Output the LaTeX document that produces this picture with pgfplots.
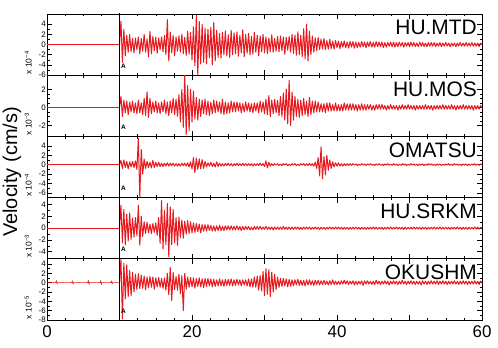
\documentclass[border=0pt]{standalone}
\usepackage{fontspec}
\setmainfont{Liberation Sans}
\usepackage{pgfplots}
\pgfplotsset{compat=1.18}
\definecolor{seisred}{RGB}{230,25,30}
\pgfplotsset{
  seis/.style={
    scale only axis, width=435bp, height=61.2bp,
    anchor=south west,
    xmin=0, xmax=60,
    xtick={0,10,...,60}, minor x tick num=3,
    xticklabels={},
    tick align=inside, tick pos=both,
    major tick length=5bp, minor tick length=2.5bp,
    minor y tick num=1,
    axis line style={line width=0.8bp},
    major tick style={black, line width=0.6bp},
    minor tick style={black, line width=0.5bp},
    yticklabel style={font=\fontsize{8}{8}\selectfont, inner sep=1bp},
    /pgf/number format/assume math mode=true,
    clip mode=individual,
  },
  seistr/.style={no marks, draw=seisred, line width=1.0bp, line join=round},
  pre/.style={no marks, draw=seisred, line width=0.7bp},
}
\newcommand{\stat}[1]{\node[anchor=north east, inner sep=0pt, font=\fontsize{21}{21}\selectfont] at (rel axis cs:0.9885,0.9) {#1};}
\newcommand{\mult}[1]{\node[rotate=90, anchor=west, inner sep=0pt, font=\fontsize{8.5}{8.5}\selectfont] at (rel axis cs:-0.043,0.01) {x 10\textsuperscript{−#1}};}
\newcommand{\arrv}{\addplot[no marks, black, line width=1.1bp] coordinates {(10,-100) (10,100)};
  \node[anchor=south west, inner sep=0.6pt, font=\fontsize{6.5}{6.5}\selectfont\bfseries] at ({axis cs:10.1,0}|-{rel axis cs:0,0.1}) {A};}
\begin{document}
\begin{tikzpicture}[x=1bp,y=1bp]
\useasboundingbox (0,0) rectangle (498,347);
% Panel 1 HU.MTD
\begin{axis}[seis, at={(47bp,271.8bp)}, ymin=-6, ymax=6, ytick={-6,-4,...,4}]
\addplot[pre] coordinates {(0,0) (10,0)};
\addplot[seistr] table[header=false,row sep=\\,x expr=10+0.2*\coordindex,y index=0] {
0\\4.6\\-3.5\\3.0\\-2.2\\1.8\\-1.5\\2.0\\-1.4\\1.2\\
-1.6\\1.3\\-1.0\\1.5\\-1.8\\1.2\\-1.3\\2.0\\-1.5\\1.1\\
-2.4\\2.6\\-1.8\\1.6\\-1.2\\1.4\\-1.7\\1.3\\-1.0\\1.5\\
-1.4\\1.8\\-2.0\\4.9\\-3.2\\2.4\\-1.6\\1.8\\-2.2\\1.5\\
-1.3\\1.7\\-1.5\\2.0\\-1.8\\1.4\\-2.1\\2.6\\-1.9\\2.4\\
-3.0\\3.5\\-4.2\\5.8\\-6.0\\4.5\\-3.8\\4.0\\-3.5\\3.2\\
-3.8\\3.0\\-2.6\\3.4\\-4.0\\4.3\\-3.2\\2.8\\-2.5\\2.2\\
-2.6\\2.4\\-2.0\\2.7\\-2.2\\1.9\\-2.5\\2.8\\-2.0\\2.3\\
-1.8\\2.5\\-2.3\\1.8\\-1.6\\2.9\\-2.4\\2.0\\-1.7\\2.2\\
-2.0\\1.6\\-1.9\\2.4\\-1.5\\1.8\\-2.2\\1.7\\-1.4\\2.0\\
-1.6\\1.5\\-1.8\\1.3\\-1.4\\1.9\\-1.5\\1.2\\-1.3\\1.6\\
-1.4\\1.7\\-1.2\\1.5\\-1.9\\1.4\\-1.1\\1.6\\-1.5\\2.0\\
-1.7\\1.9\\-2.1\\2.5\\-2.0\\1.8\\-2.4\\3.1\\-2.8\\4.0\\
-3.2\\2.6\\-2.0\\1.7\\-1.5\\1.3\\-1.2\\1.4\\-1.0\\1.1\\
-0.9\\1.2\\-1.0\\0.8\\-0.9\\1.0\\-0.8\\0.7\\-0.9\\0.8\\
-0.6\\0.7\\-0.8\\0.6\\-0.5\\0.7\\-0.6\\0.5\\-0.7\\0.6\\
-0.5\\0.6\\-0.7\\0.5\\-0.6\\0.4\\-0.5\\0.6\\-0.4\\0.5\\
-0.6\\0.5\\-0.4\\0.6\\-0.5\\0.4\\-0.5\\0.6\\-0.4\\0.5\\
-0.4\\0.5\\-0.6\\0.4\\-0.5\\0.4\\-0.3\\0.5\\-0.4\\0.5\\
-0.5\\0.4\\-0.4\\0.5\\-0.3\\0.4\\-0.5\\0.4\\-0.3\\0.4\\
-0.4\\0.5\\-0.3\\0.4\\-0.4\\0.3\\-0.4\\0.5\\-0.3\\0.4\\
-0.4\\0.3\\-0.4\\0.4\\-0.3\\0.4\\-0.3\\0.4\\-0.4\\0.3\\
-0.3\\0.4\\-0.4\\0.3\\-0.3\\0.4\\-0.3\\0.3\\-0.4\\0.3\\
-0.3\\0.3\\-0.4\\0.3\\-0.3\\0.4\\-0.3\\0.3\\-0.3\\0.4\\
-0.3\\0.3\\-0.3\\0.4\\-0.3\\0.3\\-0.3\\0.3\\-0.4\\0.3\\
0\\
};
\arrv
\stat{HU.MTD}
\mult{4}
\end{axis}
% Panel 2 HU.MOS
\begin{axis}[seis, at={(47bp,210.6bp)}, ymin=-3.2, ymax=3.55, ytick={-2,0,2}, minor y tick num=3]
\addplot[pre] coordinates {(0,0) (10,0)};
\addplot[seistr] table[header=false,row sep=\\,x expr=10+0.2*\coordindex,y index=0] {
0\\1.2\\-1.0\\0.8\\-0.6\\0.7\\-0.8\\0.6\\-0.5\\0.7\\
-0.6\\0.5\\-0.7\\0.8\\-0.6\\0.5\\-0.8\\1.0\\-0.9\\1.7\\
-1.1\\1.0\\-0.7\\0.6\\-0.5\\0.7\\-0.6\\0.5\\-0.7\\0.6\\
-0.5\\0.8\\-0.7\\0.6\\-0.9\\0.7\\-0.6\\1.0\\-0.8\\0.9\\
-1.0\\1.4\\-1.6\\2.0\\-2.2\\3.6\\-3.0\\2.4\\-2.6\\2.0\\
-1.6\\1.8\\-1.3\\1.1\\-1.4\\0.9\\-1.0\\0.8\\-0.7\\0.9\\
-0.8\\0.7\\-0.9\\0.6\\-0.7\\0.8\\-0.6\\0.7\\-0.5\\0.6\\
-0.7\\0.9\\-0.8\\0.6\\-0.7\\0.5\\-0.6\\0.7\\-0.5\\0.6\\
-0.5\\0.6\\-0.4\\0.5\\-0.6\\0.4\\-0.5\\0.6\\-0.4\\0.5\\
-0.5\\0.4\\-0.6\\0.5\\-0.4\\0.5\\-0.6\\0.7\\-0.5\\0.6\\
-0.7\\0.9\\-0.8\\1.3\\-1.0\\0.8\\-0.7\\0.9\\-0.6\\0.8\\
-0.9\\1.2\\-1.0\\1.6\\-1.4\\2.0\\-1.8\\3.0\\-2.0\\1.7\\
-1.4\\1.2\\-1.0\\0.9\\-1.1\\0.8\\-0.9\\1.0\\-0.8\\0.7\\
-1.0\\1.1\\-0.8\\0.7\\-0.6\\0.7\\-0.5\\0.6\\-0.5\\0.4\\
-0.5\\0.4\\-0.6\\0.5\\-0.4\\0.5\\-0.4\\0.3\\-0.4\\0.5\\
-0.4\\0.3\\-0.4\\0.3\\-0.4\\0.5\\-0.3\\0.4\\-0.3\\0.4\\
-0.3\\0.4\\-0.3\\0.3\\-0.4\\0.3\\-0.3\\0.4\\-0.3\\0.3\\
-0.3\\0.3\\-0.2\\0.3\\-0.3\\0.2\\-0.3\\0.3\\-0.2\\0.3\\
-0.2\\0.3\\-0.2\\0.2\\-0.3\\0.2\\-0.2\\0.3\\-0.2\\0.2\\
-0.2\\0.2\\-0.3\\0.2\\-0.2\\0.3\\-0.2\\0.2\\-0.2\\0.3\\
-0.2\\0.2\\-0.2\\0.2\\-0.3\\0.2\\-0.2\\0.2\\-0.2\\0.2\\
-0.2\\0.3\\-0.2\\0.2\\-0.2\\0.2\\-0.3\\0.2\\-0.2\\0.2\\
-0.2\\0.2\\-0.2\\0.3\\-0.2\\0.2\\-0.2\\0.2\\-0.2\\0.3\\
-0.2\\0.2\\-0.3\\0.2\\-0.2\\0.2\\-0.2\\0.3\\-0.2\\0.2\\
-0.2\\0.2\\-0.2\\0.2\\-0.3\\0.2\\-0.2\\0.2\\-0.2\\0.2\\
0\\
};
\arrv
\stat{HU.MOS}
\mult{3}
\end{axis}
% Panel 3 OMATSU
\begin{axis}[seis, at={(47bp,149.4bp)}, ymin=-7, ymax=6, ytick={-6,-4,...,4}]
\addplot[pre] coordinates {(0,0) (10,0)};
\addplot[seistr] table[header=false,row sep=\\,x expr=10+0.2*\coordindex,y index=0] {
0\\0.9\\-0.8\\1.0\\-0.6\\0.7\\-0.9\\0.6\\-0.5\\0.7\\
-0.6\\0.8\\-1.0\\5.6\\-6.9\\3.2\\-2.0\\1.2\\-0.8\\0.7\\
-0.6\\0.5\\-0.7\\0.9\\-0.6\\0.5\\-0.4\\0.5\\-0.4\\0.3\\
-0.4\\0.3\\-0.3\\0.4\\-0.3\\0.3\\-0.2\\0.3\\-0.3\\0.2\\
-0.3\\0.2\\-0.3\\0.3\\-0.2\\0.3\\-0.3\\0.4\\-0.5\\0.6\\
-0.9\\1.5\\-1.7\\1.4\\-1.0\\1.2\\-0.9\\1.1\\-0.8\\0.7\\
-0.5\\0.4\\-0.3\\0.5\\-0.4\\0.3\\-0.5\\0.6\\-0.4\\0.3\\
-0.3\\0.2\\-0.3\\0.3\\-0.2\\0.3\\-0.2\\0.2\\-0.3\\0.2\\
-0.2\\0.3\\-0.2\\0.2\\-0.2\\0.3\\-0.2\\0.2\\-0.2\\0.2\\
-0.2\\0.2\\-0.3\\0.2\\-0.2\\0.2\\-0.2\\0.3\\-0.2\\0.2\\
-0.4\\0.8\\-0.7\\0.5\\-0.3\\0.2\\-0.2\\0.2\\-0.1\\0.2\\
-0.2\\0.1\\-0.2\\0.2\\-0.1\\0.2\\-0.2\\0.1\\-0.2\\0.2\\
-0.1\\0.2\\-0.2\\0.1\\-0.2\\0.2\\-0.1\\0.2\\-0.2\\0.2\\
-0.2\\0.3\\-0.2\\0.2\\-0.3\\0.5\\-0.8\\1.5\\-2.4\\3.8\\
-3.0\\1.7\\-2.2\\2.0\\-1.2\\1.0\\-0.8\\0.6\\-0.5\\0.4\\
-0.3\\0.4\\-0.3\\0.2\\-0.3\\0.2\\-0.2\\0.2\\-0.2\\0.2\\
-0.15\\0.2\\-0.1\\0.15\\-0.2\\0.1\\-0.15\\0.2\\-0.1\\0.15\\
-0.2\\0.15\\-0.1\\0.2\\-0.15\\0.1\\-0.2\\0.15\\-0.1\\0.2\\
-0.15\\0.1\\-0.2\\0.15\\-0.1\\0.2\\-0.15\\0.1\\-0.15\\0.2\\
-0.1\\0.15\\-0.2\\0.1\\-0.15\\0.2\\-0.1\\0.15\\-0.2\\0.1\\
-0.15\\0.2\\-0.1\\0.15\\-0.15\\0.1\\-0.2\\0.15\\-0.1\\0.15\\
-0.2\\0.1\\-0.15\\0.2\\-0.1\\0.15\\-0.15\\0.1\\-0.2\\0.15\\
-0.1\\0.15\\-0.2\\0.1\\-0.15\\0.15\\-0.1\\0.2\\-0.15\\0.1\\
-0.15\\0.2\\-0.1\\0.15\\-0.15\\0.1\\-0.2\\0.15\\-0.1\\0.15\\
-0.2\\0.1\\-0.15\\0.15\\-0.1\\0.2\\-0.15\\0.1\\-0.15\\0.15\\
0\\
};
\arrv
\stat{OMATSU}
\mult{4}
\end{axis}
% Panel 4 HU.SRKM
\begin{axis}[seis, at={(47bp,88.2bp)}, ymin=-5.2, ymax=5.2, ytick={-4,-2,...,4}]
\addplot[pre] coordinates {(0,0) (10,0)};
\addplot[seistr] table[header=false,row sep=\\,x expr=10+0.2*\coordindex,y index=0] {
0\\3.9\\-2.5\\3.2\\-2.8\\2.4\\-2.2\\2.6\\-1.9\\1.7\\
-1.5\\1.8\\-1.3\\3.9\\-2.9\\2.0\\-1.4\\1.1\\-0.9\\1.0\\
-0.8\\0.7\\-0.9\\0.8\\-0.7\\0.9\\-1.2\\1.8\\-2.6\\4.7\\
-3.5\\3.0\\-2.8\\4.2\\-4.9\\3.6\\-2.8\\3.2\\-2.5\\1.8\\
-2.9\\1.9\\-1.6\\1.4\\-1.7\\1.2\\-1.0\\1.3\\-0.9\\1.1\\
-0.8\\0.9\\-0.7\\0.8\\-0.6\\0.7\\-0.8\\0.6\\-0.5\\0.6\\
-0.5\\0.6\\-0.4\\0.5\\-0.5\\0.4\\-0.5\\0.4\\-0.4\\0.5\\
-0.4\\0.3\\-0.4\\0.4\\-0.3\\0.4\\-0.3\\0.4\\-0.3\\0.3\\
-0.3\\0.4\\-0.3\\0.3\\-0.4\\0.3\\-0.3\\0.3\\-0.2\\0.3\\
-0.3\\0.2\\-0.3\\0.3\\-0.2\\0.3\\-0.2\\0.3\\-0.2\\0.2\\
-0.2\\0.3\\-0.2\\0.2\\-0.2\\0.2\\-0.3\\0.2\\-0.2\\0.2\\
-0.2\\0.2\\-0.2\\0.3\\-0.2\\0.2\\-0.2\\0.2\\-0.2\\0.2\\
-0.2\\0.2\\-0.15\\0.2\\-0.2\\0.15\\-0.2\\0.2\\-0.15\\0.2\\
-0.15\\0.2\\-0.2\\0.15\\-0.15\\0.2\\-0.15\\0.15\\-0.2\\0.15\\
-0.15\\0.15\\-0.2\\0.15\\-0.15\\0.2\\-0.15\\0.15\\-0.15\\0.2\\
-0.15\\0.2\\-0.15\\0.15\\-0.2\\0.15\\-0.15\\0.15\\-0.2\\0.15\\
-0.15\\0.15\\-0.15\\0.2\\-0.15\\0.15\\-0.2\\0.15\\-0.15\\0.15\\
-0.2\\0.15\\-0.15\\0.15\\-0.15\\0.2\\-0.15\\0.15\\-0.15\\0.15\\
-0.15\\0.15\\-0.2\\0.15\\-0.15\\0.15\\-0.15\\0.2\\-0.15\\0.15\\
-0.15\\0.2\\-0.15\\0.15\\-0.15\\0.15\\-0.2\\0.15\\-0.15\\0.15\\
-0.15\\0.15\\-0.15\\0.2\\-0.15\\0.15\\-0.15\\0.15\\-0.2\\0.15\\
-0.15\\0.15\\-0.2\\0.15\\-0.15\\0.15\\-0.15\\0.2\\-0.15\\0.15\\
-0.15\\0.2\\-0.15\\0.15\\-0.15\\0.15\\-0.15\\0.15\\-0.2\\0.15\\
-0.15\\0.15\\-0.15\\0.2\\-0.15\\0.15\\-0.2\\0.15\\-0.15\\0.15\\
-0.2\\0.15\\-0.15\\0.15\\-0.15\\0.2\\-0.15\\0.15\\-0.15\\0.15\\
0\\
};
\arrv
\stat{HU.SRKM}
\mult{3}
\end{axis}
% Panel 5 OKUSHM
\begin{axis}[seis, at={(47bp,27bp)}, ymin=-8, ymax=5.1, ytick={-8,-6,...,4},
  xticklabels={0,,20,,40,,60}, xticklabel style={font=\fontsize{17}{17}\selectfont, yshift=-2.5bp}]
\addplot[pre] coordinates {(0,0) (1.2,0) (1.3,0.35) (1.4,-0.2) (1.5,0) (3.4,0) (3.5,0.3) (3.6,-0.25) (3.7,0) (5.6,0) (5.7,0.4) (5.8,-0.3) (5.9,0) (7.3,0) (7.4,0.35) (7.5,-0.3) (7.6,0) (8.8,0) (8.9,0.3) (9.0,-0.2) (9.1,0) (10,0)};
\addplot[seistr] table[header=false,row sep=\\,x expr=10+0.2*\coordindex,y index=0] {
0\\5.0\\-7.8\\4.2\\-3.5\\3.8\\-3.0\\2.6\\-2.8\\2.2\\
-2.0\\1.8\\-1.5\\1.9\\-1.3\\1.6\\-1.2\\1.4\\-1.5\\1.2\\
-1.1\\1.3\\-1.0\\1.2\\-1.4\\1.0\\-0.9\\1.1\\-1.0\\0.9\\
-1.2\\1.0\\-1.6\\2.0\\-2.6\\3.2\\-3.8\\2.2\\-1.5\\1.3\\
-1.6\\1.8\\-2.4\\1.5\\-6.0\\2.0\\-1.4\\1.2\\-1.0\\1.1\\
-0.9\\1.0\\-1.2\\0.9\\-0.8\\1.0\\-0.9\\0.8\\-1.1\\0.9\\
-0.8\\0.9\\-0.7\\0.8\\-0.9\\0.7\\-0.8\\0.6\\-0.7\\0.8\\
-0.7\\0.6\\-0.8\\0.7\\-0.6\\0.7\\-0.6\\0.8\\-0.7\\0.6\\
-0.6\\0.7\\-0.5\\0.6\\-0.7\\0.6\\-0.5\\0.6\\-0.7\\0.8\\
-0.9\\0.8\\-1.0\\1.2\\-1.0\\1.4\\-1.6\\1.5\\-1.8\\2.4\\
-2.8\\3.0\\-2.5\\2.8\\-3.0\\2.2\\-2.0\\1.8\\-1.5\\1.2\\
-1.0\\0.9\\-0.8\\0.9\\-0.7\\0.8\\-0.9\\0.7\\-0.8\\0.6\\
-0.7\\0.6\\-0.5\\0.7\\-0.6\\0.5\\-0.6\\0.5\\-0.7\\0.6\\
-0.5\\0.6\\-0.5\\0.4\\-0.6\\0.5\\-0.4\\0.5\\-0.5\\0.4\\
-0.4\\0.5\\-0.4\\0.3\\-0.5\\0.4\\-0.4\\0.6\\-0.4\\0.3\\
-0.4\\0.3\\-0.4\\0.4\\-0.3\\0.5\\-0.3\\0.4\\-0.4\\0.3\\
-0.3\\0.4\\-0.5\\0.3\\-0.4\\0.3\\-0.3\\0.4\\-0.6\\0.4\\
-0.3\\0.4\\-0.3\\0.3\\-0.4\\0.3\\-0.4\\0.5\\-0.3\\0.3\\
-0.4\\0.3\\-0.3\\0.4\\-0.3\\0.3\\-0.5\\0.3\\-0.3\\0.4\\
-0.3\\0.3\\-0.4\\0.3\\-0.3\\0.5\\-0.3\\0.3\\-0.4\\0.3\\
-0.3\\0.4\\-0.3\\0.3\\-0.4\\0.3\\-0.3\\0.3\\-0.5\\0.4\\
-0.3\\0.3\\-0.4\\0.3\\-0.3\\0.4\\-0.3\\0.3\\-0.3\\0.4\\
-0.4\\0.3\\-0.3\\0.4\\-0.3\\0.3\\-0.4\\0.3\\-0.3\\0.3\\
-0.3\\0.4\\-0.3\\0.3\\-0.4\\0.3\\-0.3\\0.4\\-0.3\\0.3\\
-0.4\\0.3\\-0.3\\0.3\\-0.3\\0.4\\-0.3\\0.3\\-0.4\\0.3\\
0\\
};
\arrv
\stat{OKUSHM}
\mult{5}
\end{axis}
\node[rotate=90, font=\fontsize{20}{20}\selectfont] at (12,175) {Velocity (cm/s)};
\end{tikzpicture}
\end{document}
